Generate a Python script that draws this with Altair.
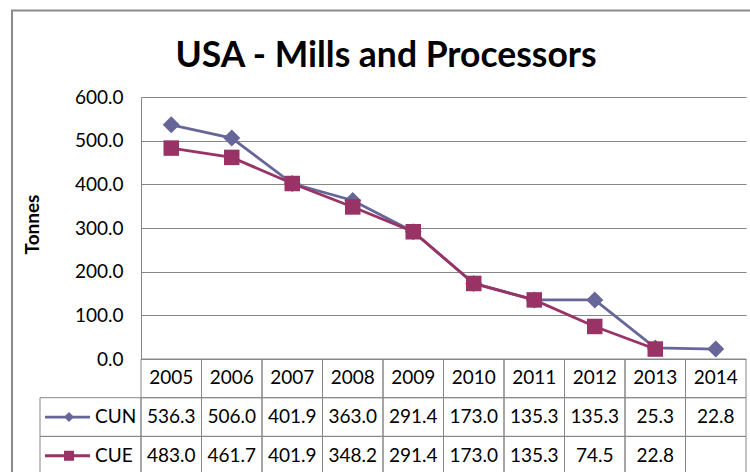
import altair as alt
import pandas as pd

# ---- data -------------------------------------------------------------
years = [2005, 2006, 2007, 2008, 2009, 2010, 2011, 2012, 2013, 2014]
cun = [536.3, 506.0, 401.9, 363.0, 291.4, 173.0, 135.3, 135.3, 25.3, 22.8]
cue = [483.0, 461.7, 401.9, 348.2, 291.4, 173.0, 135.3, 74.5, 22.8, None]
series = ["CUN", "CUE"]
series_values = [cun, cue]
colors = ["#666699", "#993366"]
shapes = ["diamond", "square"]

chart_title = "USA - Mills and Processors"
y_title = "Tonnes"
y_ticks = [0, 100, 200, 300, 400, 500, 600]

# ---- layout (pixels) ----------------------------------------------------
W, H = 605, 262          # plot area
LEFT, TOP = 141, 97      # plot origin inside the page
COL_W = W / len(years)   # width of one year column
ROW_H = 38.7             # height of a data-table row
LABEL_W = 101            # legend column of the data table
FONT = "Lato"
FS = 19
GRID = "#878787"

x0 = years[0] - 0.5
x1 = years[-1] + 0.5


def x_at(px):
    """x value (year units) at a pixel offset from the plot's left edge."""
    return x0 + px / COL_W


xs = alt.Scale(domain=[x0, x1], nice=False, zero=False)

# ---- long table for the lines -----------------------------------------
rows = []
for name, vals in zip(series, series_values):
    for yr, v in zip(years, vals):
        if v is not None:
            rows.append({"year": yr, "value": v, "series": name})
line_df = pd.DataFrame(rows)

color_scale = alt.Scale(domain=series, range=colors)
shape_scale = alt.Scale(domain=series, range=shapes)

y_axis = alt.Axis(
    values=y_ticks, format=".1f", grid=True, gridColor=GRID, gridWidth=1,
    domainColor=GRID, domainWidth=1, ticks=False, tickSize=0,
    labelFont=FONT, labelFontSize=FS, labelColor="black", labelPadding=18,
    title=y_title, titleFont=FONT, titleFontSize=19, titleFontWeight="bold",
    titleColor="black", titleAngle=-90, titleX=-109, titleY=127,
    titleAlign="center", titleBaseline="middle",
)

lines_base = alt.Chart(line_df).encode(
    x=alt.X("year:Q", scale=xs, axis=None),
    y=alt.Y("value:Q", scale=alt.Scale(domain=[0, 600], nice=False), axis=y_axis),
    color=alt.Color("series:N", scale=color_scale, legend=None),
)

series_layers = []
for name, size in zip(series, [290, 240]):
    sub = lines_base.transform_filter(alt.datum.series == name)
    series_layers.append(sub.mark_line(strokeWidth=2.8))
    series_layers.append(
        sub.mark_point(filled=True, opacity=1, size=size, strokeWidth=0).encode(
            shape=alt.Shape("series:N", scale=shape_scale, legend=None)
        )
    )
plot_layer = alt.layer(*series_layers)

# ---- data table below the plot ----------------------------------------
ty = alt.Scale(domain=[0, 3], range=[H, H + 3 * ROW_H], nice=False, zero=False)

cells = []
for yr in years:
    cells.append({"x": yr - 0.5, "x2": yr + 0.5, "r": 0, "r2": 1})
for i, name in enumerate(series, start=1):
    cells.append({"x": x_at(-LABEL_W), "x2": x0, "r": i, "r2": i + 1})
    for yr in years:
        cells.append({"x": yr - 0.5, "x2": yr + 0.5, "r": i, "r2": i + 1})
cell_df = pd.DataFrame(cells)

cell_layer = alt.Chart(cell_df).mark_rect(
    fill=None, stroke=GRID, strokeWidth=1
).encode(
    x=alt.X("x:Q", scale=xs, axis=None), x2="x2:Q",
    y=alt.Y("r:Q", scale=ty, axis=None), y2="r2:Q",
)

texts = []
for yr in years:
    texts.append({"x": yr, "r": 0.5, "label": str(yr)})
for i, vals in enumerate(series_values, start=1):
    for yr, v in zip(years, vals):
        if v is not None:
            texts.append({"x": yr, "r": i + 0.5, "label": f"{v:.1f}"})
text_df = pd.DataFrame(texts)

text_layer = alt.Chart(text_df).mark_text(
    font=FONT, fontSize=FS, color="black", align="center", baseline="middle"
).encode(
    x=alt.X("x:Q", scale=xs, axis=None),
    y=alt.Y("r:Q", scale=ty, axis=None),
    text="label:N",
)

# legend keys in the table's first column
key_df = pd.DataFrame({
    "series": series,
    "r": [1.5, 2.5],
    "xa": [x_at(-96)] * 2,
    "xb": [x_at(-51)] * 2,
    "xm": [x_at(-72)] * 2,
    "xt": [x_at(-46)] * 2,
})
key_base = alt.Chart(key_df).encode(
    y=alt.Y("r:Q", scale=ty, axis=None),
    color=alt.Color("series:N", scale=color_scale, legend=None),
)
key_rule = key_base.mark_rule(strokeWidth=2.8).encode(
    x=alt.X("xa:Q", scale=xs, axis=None), x2="xb:Q"
)
key_mark = key_base.mark_point(filled=True, opacity=1, size=100, strokeWidth=0).encode(
    x=alt.X("xm:Q", scale=xs, axis=None),
    shape=alt.Shape("series:N", scale=shape_scale, legend=None),
)
key_text = alt.Chart(key_df).mark_text(
    font=FONT, fontSize=FS, color="black", align="left", baseline="middle"
).encode(
    x=alt.X("xt:Q", scale=xs, axis=None),
    y=alt.Y("r:Q", scale=ty, axis=None),
    text="series:N",
)

# chart-area frame and title
frame = alt.Chart(pd.DataFrame({"a": [0]})).mark_rect(
    fill=None, stroke="#8a8a8a", strokeWidth=2
).encode(
    x=alt.value(12 - LEFT), y=alt.value(10.5 - TOP),
    x2=alt.value(W + 40), y2=alt.value(H + 200),
)
title_mark = alt.Chart(pd.DataFrame({"t": [chart_title]})).mark_text(
    font=FONT, fontSize=35.5, fontWeight="bold", color="black",
    align="center", baseline="alphabetic",
).encode(
    x=alt.value(386 - LEFT), y=alt.value(67 - TOP), text="t:N",
)

table_layer = alt.layer(frame, title_mark, cell_layer, text_layer,
                        key_rule, key_mark, key_text)

chart = alt.layer(table_layer, plot_layer).resolve_scale(
    y="independent"
).properties(
    width=W, height=H,
    autosize=alt.AutoSizeParams(type="none"),
    padding={"left": LEFT, "top": TOP, "right": 750 - LEFT - W, "bottom": 472 - TOP - H},
    background="white",
).configure_view(stroke=None)

chart.save("out.html", embed_options={"renderer": "svg", "actions": False})
